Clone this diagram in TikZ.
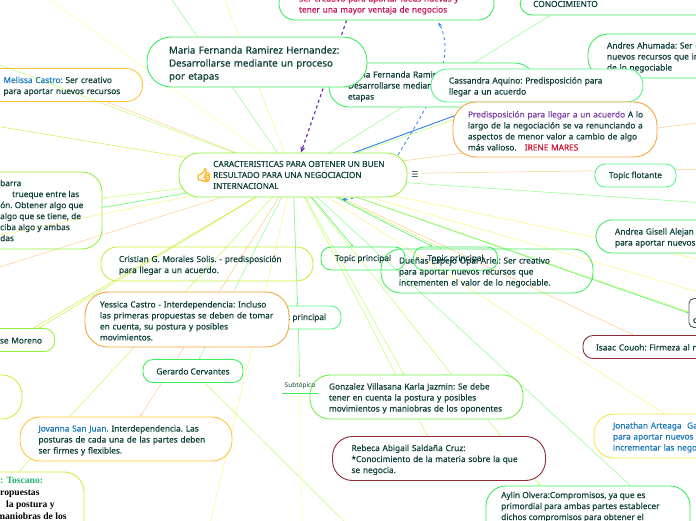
\documentclass[tikz,border=0pt]{standalone}
\usepackage{fontspec}
\setmainfont{Noto Sans}[FakeBold=0.45]
\newfontfamily\serifpart{Liberation Serif}
\newfontfamily\symbolfont{DejaVu Sans}
\newfontfamily\plainpart{Noto Sans}
\newfontfamily\emojifont[FakeBold=5]{Noto Emoji}
\usetikzlibrary{arrows.meta,backgrounds}
\definecolor{inkteal}{HTML}{0F3F3A}
\definecolor{nodegreen}{HTML}{3CEE5A}
\definecolor{nodelime}{HTML}{96F03C}
\definecolor{nodeyellow}{HTML}{C8F040}
\definecolor{nodeorange}{HTML}{F5A540}
\definecolor{nodegold}{HTML}{FFC535}
\definecolor{nodesun}{HTML}{FFE24A}
\definecolor{nodemaroon}{HTML}{8C2A35}
\definecolor{nodeaqua}{HTML}{55F58A}
\definecolor{nodegrey}{HTML}{555555}
\definecolor{linkyellow}{HTML}{FFF47A}
\definecolor{linkpale}{HTML}{FFFF99}
\definecolor{linkorange}{HTML}{FFCB8A}
\definecolor{linkgreen}{HTML}{8CFF8C}
\definecolor{linklime}{HTML}{BDFF66}
\definecolor{linkaqua}{HTML}{55F5A5}
\definecolor{relblue}{HTML}{2A80E8}
\definecolor{relpurple}{HTML}{6A2FA0}
\definecolor{namepink}{HTML}{C2185B}
\definecolor{nameblue}{HTML}{1A78B8}
\definecolor{namepurple}{HTML}{7A3FA5}
\definecolor{namered}{HTML}{C8102E}
\definecolor{namegreen}{HTML}{1FB36B}
\tikzset{
  topic/.style    = {rounded corners=16pt, line width=0.9pt, fill=white, text=inkteal,
                     align=left, inner xsep=18pt, inner ysep=0pt, text height=9pt,
                     font=\frenchspacing\fontsize{8.3}{11}\selectfont},
  bare/.style     = {topic, fill=none},
  small/.style    = {topic, rounded corners=10pt, minimum height=23pt, align=center, inner xsep=8pt,
                     text height=7pt},
  words/.style    = {text=inkteal, align=left, inner sep=0pt,
                     font=\frenchspacing\fontsize{8.3}{11}\selectfont},
  link/.style     = {-{Stealth[length=2.5pt,width=2pt]}, line width=0.5pt},
  relation/.style = {{Stealth[length=4.5pt,width=4pt]}-{Stealth[length=4.5pt,width=4pt]}, draw=relblue,
                     line width=0.8pt, dashed},
}
\begin{document}
\begin{tikzpicture}[x=1pt,y=-1pt]
  \useasboundingbox (0,0) rectangle (696,520);
  \clip (0,0) rectangle (696,520);
  % top row
  \node[topic,draw=nodegreen,text width=175pt,minimum height=33pt,inner xsep=20pt] (pink) at (386.5,3.5)
    {\color{namepink}\mbox{Ser creativo para aportar ideas nuevas y}\\tener una mayor ventaja de negocios};
  \node[topic,draw=nodegreen,rounded corners=12pt,minimum width=240pt,minimum height=22pt] (cono) at (640,4) {};
  \node[words,anchor=west] (conotext) at (533,4) {CONOCIMIENTO};
  \node[topic,draw=nodegreen,rounded corners=20pt,text width=112pt,minimum height=44pt,inner xsep=19pt] (andres) at (663,56)
    {Andres Ahumada: Ser c\\nuevos recursos que in\\de lo negociable};
  \node[topic,draw=nodegreen,rounded corners=20pt,text width=168pt,minimum height=44pt,inner xsep=19pt] (mariatwo) at (432,85)
    {Maria Fernanda Ramirez Hernandez:\\\mbox{Desarrollarse mediante un proceso por}\\etapas};
  \node[topic,draw=nodegreen,rounded corners=24pt,text width=176pt,minimum height=50pt,inner xsep=22pt,
    text height=11.5pt,font=\frenchspacing\fontsize{9.8}{13}\selectfont] (maria) at (257,62)
    {\mbox{Maria Fernanda Ramirez Hernandez:}\\Desarrollarse mediante un proceso\\por etapas};
  \node[topic,draw=nodeaqua,text width=176pt,minimum height=33pt] (cassandra) at (537,85.5)
    {Cassandra Aquino: Predisposición para\\llegar a un acuerdo};
  \node[topic,draw=nodeorange,rounded corners=23pt,text width=174pt,minimum height=55pt,inner xsep=15pt] (predis) at (555,129.5)
    {\mbox{\textcolor{namepurple}{Predisposición para llegar a un acuerdo} A lo}\\\mbox{largo de la negociación se va renunciando a}\\\mbox{aspectos de menor valor a cambio de algo}\\más valioso.\quad\textcolor{namered}{IRENE MARES}};
  % left side
  \node[bare,draw=nodegold,text width=121pt,minimum height=33pt] (melissa) at (64,85)
    {\textcolor{nameblue}{Melissa Castro:} Ser creativo\\para aportar nuevos recursos};
  \node[bare,draw=nodelime,rounded corners=20pt,minimum width=204pt,minimum height=77pt] (barra) at (0,210.5) {};
  \node[words,anchor=west] (barratext) at (0,210.5)
    {barra\\\hspace*{12pt}trueque entre las\\ón. Obtener algo que\\algo que se tiene, de\\ciba algo y ambas\\das};
  % centre
  \node[topic,draw=nodelime,rounded corners=20pt,minimum width=228pt,minimum height=44pt] (central) at (293,175) {};
  \node[words,anchor=west] (centraltext) at (213,175)
    {CARACTERISTICAS PARA OBTENER UN BUEN\\RESULTADO PARA UNA NEGOCIACION\\INTERNACIONAL};
  \node[text=nodegold!80!orange,inner sep=0pt,font=\emojifont\fontsize{13}{13}\selectfont] (thumb) at (204,175) {👍};
  \node[fill=white,text=inkteal,inner sep=1pt,font=\symbolfont\fontsize{8}{8}\selectfont] (menu) at (415,175) {☰};
  % right side
  \node[small,draw=nodeaqua,minimum width=81pt] (flotante) at (635.5,175.5) {Topic flotante};
  \node[topic,draw=nodegreen,text width=112pt,minimum height=33pt,inner xsep=19pt] (andrea) at (671,236.5)
    {Andrea Gisell Alejan\\para aportar nuevos};
  \node[bare,draw=nodegreen,text width=176pt,minimum height=44pt,rounded corners=20pt] (duenas) at (487,271)
    {Dueñas Espejo Opal Ariel: Ser creativo\\para aportar nuevos recursos que\\incrementen el valor de lo negociable.};
  \node[small,bare,rounded corners=10pt,minimum height=23pt,align=center,inner xsep=8pt,text height=7pt,draw=nodegreen,minimum width=84pt] (topicone) at (363,258.5) {Topic principal};
  \node[small,bare,rounded corners=10pt,minimum height=23pt,align=center,inner xsep=8pt,text height=7pt,draw=nodegreen,minimum width=84pt] (topictwo) at (455.5,258.5) {Topic principal};
  \node[topic,draw=nodegrey,rounded corners=5pt,text width=54pt,minimum height=29pt,inner xsep=4pt] (blackbox) at (720,313) {\phantom{c}\\c};
  \node[small,draw=nodemaroon,minimum width=152pt,text width=126pt,align=left,inner xsep=13pt] (isaac) at (659,347) {Isaac Couoh: Firmeza al n};
  \node[topic,draw=nodesun,rounded corners=20pt,text width=172pt,minimum height=44pt,inner xsep=19pt,text=nameblue] (jonathan) at (699,436)
    {Jonathan Arteaga\ \ Ga\\para aportar nuevos\\incrementar las nego};
  % below the centre
  \node[bare,draw=nodeyellow,text width=176pt,minimum height=34pt] (cristian) at (207,264)
    {Cristian G. Morales Solis. - predisposición\\para llegar a un acuerdo.};
  \node[small,draw=nodeaqua,minimum width=86pt] (topicthree) at (298,317.5) {Topic principal};
  \node[topic,draw=nodeorange,rounded corners=23pt,text width=174pt,minimum height=55pt,inner xsep=15pt] (yessica) at (187,319.5)
    {Yessica Castro - Interdependencia: Incluso\\\mbox{las primeras propuestas se deben de tomar}\\en cuenta, su postura y posibles\\movimientos.};
  \node[small,draw=nodegreen,minimum width=100pt] (gerardo) at (193,371) {Gerardo Cervantes};
  \node[small,draw=nodelime,minimum width=71pt,text width=46pt,align=right,inner xsep=12.5pt] (jose) at (19,340) {se Moreno};
  \node[topic,draw=nodeyellow,rounded corners=20pt,minimum width=204pt,minimum height=44pt] (leftbox) at (-80,397) {};
  \node[topic,draw=nodegold,rounded corners=20pt,text width=175pt,minimum height=44pt,inner xsep=18.5pt] (jovanna) at (126,439)
    {\mbox{\textcolor{nameblue}{Jovanna San Juan.} Interdependencia. Las}\\\mbox{posturas de cada una de las partes deben}\\ser firmes y flexibles.};
  \node[topic,draw=nodeyellow,rounded corners=20pt,minimum width=208pt,minimum height=84pt] (toscano) at (-20,514) {};
  \node[text=black,align=left,inner sep=0pt,anchor=north west,font=\serifpart\fontsize{9.6}{11.7}\selectfont\bfseries] (toscanotext) at (0,477.5)
    {\textcolor{namegreen}{: Toscano:}\\ropuestas\\\hspace*{6pt}la postura y\\\hspace*{-3pt}maniobras de los};
  \node[topic,draw=nodelime!60!nodegreen,rounded corners=20pt,text width=175pt,minimum height=44pt,inner xsep=19pt] (gonzalez) at (416.5,397)
    {\mbox{Gonzalez Villasana Karla Jazmin: Se debe}\\tener en cuenta la postura y posibles\\\mbox{movimientos y maniobras de los oponentes}};
  \node[text=inkteal,inner sep=0pt,minimum width=36.5pt,minimum height=16pt,font=\plainpart\fontsize{6.5}{7}\selectfont] (subtopic) at (300,385.5) {Subtópico};
  \draw[nodegreen,line width=0.9pt] (subtopic.south west) -- (subtopic.south east);
  \node[topic,draw=nodemaroon,rounded corners=20pt,text width=175pt,minimum height=44pt,inner xsep=19pt] (rebeca) at (439,458.5)
    {Rebeca Abigail Saldaña Cruz:\\{*}Conocimiento de la materia sobre la que\\se negocia.};
  \node[topic,draw=nodegreen,rounded corners=20pt,minimum width=204pt,minimum height=120pt] (aylin) at (588,546) {};
  \node[words,anchor=north west] (aylintext) at (501,491.5)
    {Aylin Olvera:Compromisos, ya que es\\primordial para ambas partes establecer\\dichos compromisos para obtener el};
  % connectors
  \begin{scope}[on background layer]
    \clip (0,0) rectangle (696,520);
    \coordinate (fara) at (26,-17.5);
    \coordinate (farb) at (160,-17.5);
    \coordinate (farc) at (218,-17.5);
    \coordinate (fard) at (-29,54);
    \coordinate (fare) at (-29,122);
    \coordinate (farf) at (-29,241);
    \coordinate (farg) at (-29,276);
    \coordinate (farh) at (-29,365);
    \coordinate (farj) at (206,540);
    \coordinate (fark) at (303,540);
    \coordinate (farl) at (363,540);
    \coordinate (farm) at (670,522);
    \coordinate (farn) at (540,90);
    \coordinate (farp) at (723,264);
    \coordinate (farq) at (720,169);
    \coordinate (farr) at (720,120);
    \coordinate (fars) at (720,204);
    \coordinate (fart) at (720,298);
    \foreach \target/\linecol in {fara/linkpale,farb/linkgreen,farc/linkyellow,fard/linklime,
        fare/nodeyellow,farf/linkyellow,farg/linkorange,farh/nodeyellow,farj/linkyellow,fark/linkpale,
        farm/linkgreen,farn/linklime,farp/linkyellow,farq/linkorange,farr/linkorange,fars/linkgreen,
        fart/linkyellow,melissa/linkorange,barra/linklime,jose/nodeyellow,toscano/linklime,
        jovanna/linkorange,gerardo/linkgreen,topicthree/linkaqua,gonzalez/linklime,rebeca/linklime,
        aylin/linklime,jonathan/linkyellow,isaac/linkorange,topicone/nodegreen,topictwo/nodegreen,
        duenas/linklime}
      \draw[link,draw=\linecol] (central.center) -- (\target);
    \draw[link,draw=linkgreen,line width=0.9pt] (central.center) -- ([yshift=3pt]barra.east);
    \draw[link,draw=linkgreen] (central.center) -- ([xshift=-90pt]cono.south);
    \draw[link,draw=nodegreen] (central.center) -- (blackbox.west);
    \draw[link,draw=linklime] (central.center) -- ([yshift=1.2pt]blackbox.west);
    \draw[link,draw=linklime] (gerardo) -- (farl);
    \draw[link,draw=linkaqua] (topicthree) -- (subtopic);
    \draw[relblue,line width=0.9pt] (central.center) -- (cassandra);
    \draw[relpurple,-{Stealth[length=6pt,width=5pt]},line width=1.2pt,dashed]
      ([xshift=-40pt]pink.south) -- ([xshift=8pt]central.north);
    \coordinate (bluemid) at (398,155);
    \draw[relation] ([xshift=49pt,yshift=-2pt]central.south) .. controls (365,199) and (385,177) .. (bluemid)
      .. controls (425,110) and (458,60) .. ([xshift=52pt,yshift=-2pt]pink.south);
  \end{scope}
\end{tikzpicture}
\end{document}
